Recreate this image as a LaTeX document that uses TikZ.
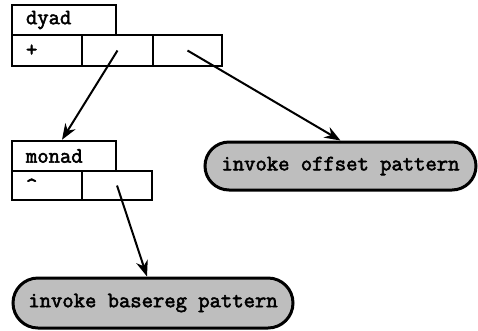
\documentclass[tikz,border=0pt]{standalone}
\usepackage{fontspec}
\setmonofont{Latin Modern Mono}[BoldFont={Latin Modern Mono}, BoldFeatures={FakeBold=2.5}]
\usetikzlibrary{shapes.misc,arrows.meta}
\definecolor{pillgray}{RGB}{190,190,190}
\newcommand{\cellfont}{\ttfamily\bfseries\fontsize{22}{23}\selectfont}
\tikzset{
  cell/.style={draw, line width=2.5pt, inner sep=0pt, font=\cellfont},
  headcell/.style={cell, minimum width=104pt, minimum height=30pt, text width=76pt, align=left, inner xsep=14pt},
  pill/.style={rounded rectangle, draw, line width=3pt, fill=pillgray, inner sep=0pt, font=\cellfont},
  link/.style={line width=2pt, -{Stealth[length=16pt,width=12pt]}}
}
\begin{document}
\begin{tikzpicture}[x=1pt,y=-1pt]
\useasboundingbox (0,0) rectangle (478,330);
% dyad
\node[headcell] (dyadhead) at (64,20) {dyad};
\node[cell, minimum width=70pt, minimum height=31pt, text width=42pt, align=left, inner xsep=14pt] (dyadop) at (47,50.5) {+};
\node[cell, minimum width=71pt, minimum height=31pt] (dyadleft) at (117.5,50.5) {};
\node[cell, minimum width=69pt, minimum height=31pt] (dyadright) at (187.5,50.5) {};
% monad
\node[headcell] (monadhead) at (64,156) {monad};
\node[cell, minimum width=70pt, minimum height=29pt, text width=42pt, align=left, inner xsep=14pt] (monadop) at (47,185.5) {\textasciicircum};
\node[cell, minimum width=70pt, minimum height=29pt] (monadarg) at (117,185.5) {};
% pills
\node[pill, minimum width=271pt, minimum height=48pt] (offset) at (340.5,166) {invoke offset pattern};
\node[pill, minimum width=280pt, minimum height=50pt] (basereg) at (153,303) {invoke basereg pattern};
% links
\draw[link] (dyadleft.center) -- ([xshift=-2pt]monadhead.north);
\draw[link] (dyadright.center) -- (offset.north);
\draw[link] (monadarg.center) -- ([xshift=-6pt]basereg.north);
\end{tikzpicture}
\end{document}
